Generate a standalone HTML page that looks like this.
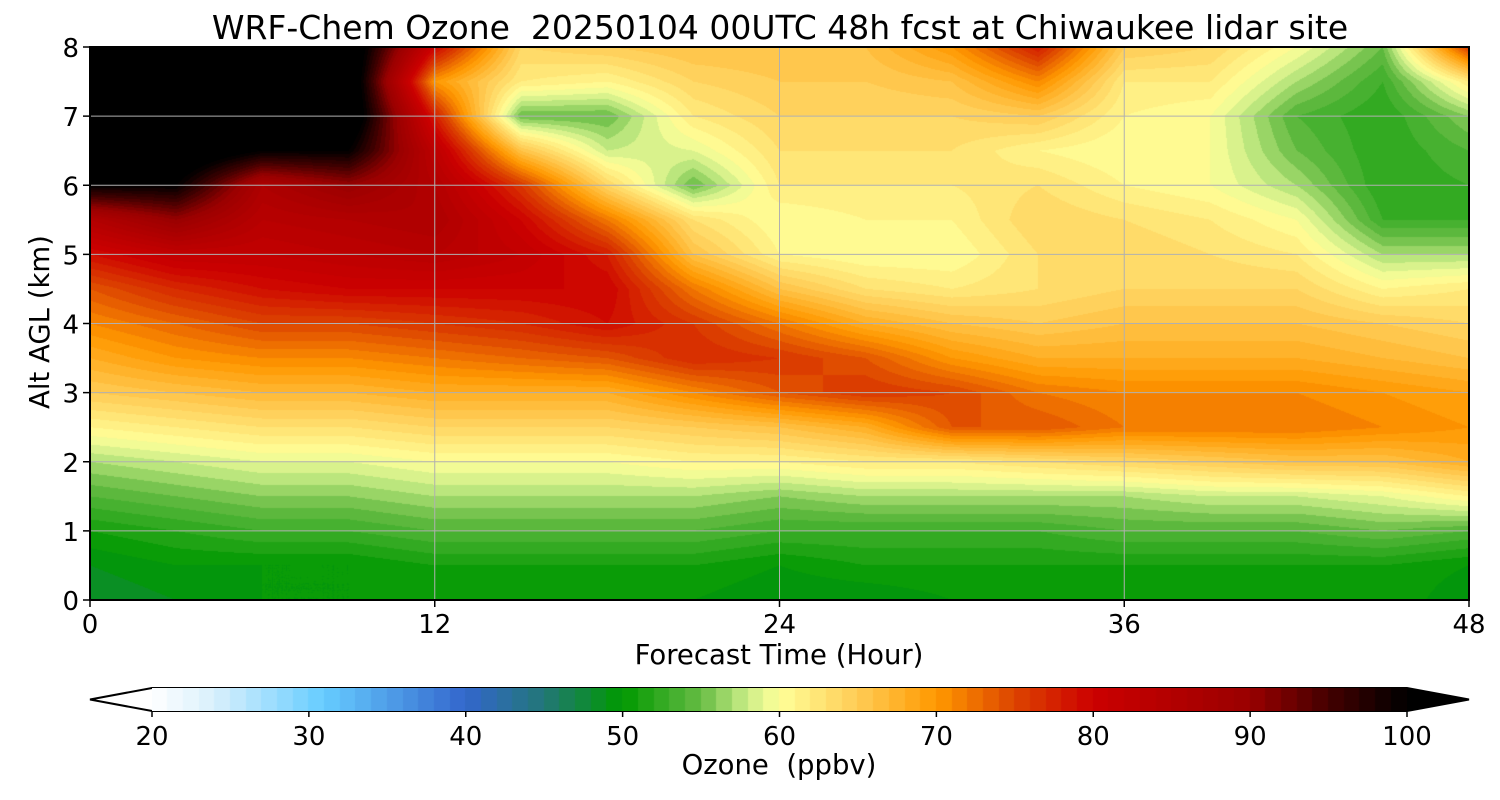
<!DOCTYPE html>
<html><head><meta charset="utf-8"><style>
body{margin:0;background:#fff;font-family:"DejaVu Sans","Liberation Sans",sans-serif;}
#wrap{position:relative;width:1500px;height:800px;}
canvas{position:absolute;}
.t{position:absolute;color:#000;white-space:nowrap;}
</style></head><body>
<div id="wrap">
<div class="t" style="left:0;width:1560px;text-align:center;top:8px;font-size:33px;">WRF-Chem Ozone&nbsp; 20250104 00UTC 48h fcst at Chiwaukee lidar site</div>
<canvas id="plot" width="1379" height="553" style="left:90px;top:47px"></canvas>
<svg id="ov" width="1500" height="800" style="position:absolute;left:0;top:0"></svg>
<canvas id="cb" width="1255" height="23" style="left:152px;top:688px"></canvas>
<div class="t" style="left:479px;width:600px;text-align:center;top:639px;font-size:27.5px;">Forecast Time (Hour)</div>
<div class="t" style="left:-260px;width:600px;text-align:center;top:306px;font-size:27.5px;transform:rotate(-90deg);">Alt AGL (km)</div>
<div class="t" style="left:479px;width:600px;text-align:center;top:749px;font-size:27.5px;">Ozone&nbsp; (ppbv)</div>
</div>
<script>
const hours=[0,3,6,9,12,15,18,21,24,27,30,33,36,39,42,45,48];
const alts=[0,0.5,1,1.5,2,2.5,3,3.5,4,4.5,5,5.5,6,6.5,7,7.5,8];
const xTicks=[0,12,24,36,48];
const yTicks=[0,1,2,3,4,5,6,7,8];
const cbTicks=[20,30,40,50,60,70,80,90,100];
// ozone[hourIndex][altIndex]
const ozone=[
[48,49,51,54,57,61,65,68,71,74,79,85,100,105,105,105,105],
[49,50,52,55,58,62,66,70,73,77,82,90,100,105,105,105,105],
[50,50,53,56,59,63,67,71,75,79,82,84,86,100,105,105,105],
[50,50,53,56,59,63,67,71,75,80,83,85,90,100,105,105,105],
[50,51,54,57,60,64,68,72,76,80,84,86,85,83,78,70,80],
[50,51,54,57,60,64,68,73,77,80,82,80,76,66,55,62,64],
[50,51,54,57,60,64,68,74,79,80,78,72,64,58,55,61,65],
[50,51,54,57,61,65,71,77,76,72,66,63,55,59,62,64,66],
[49,50,53,56,61,66,74,76,72,66,61,60,62,63,64,65,66],
[49,51,53,57,62,68,76,74,68,63,60,61,62,63,64,65,66],
[50,51,53,57,62,74,75,70,66,62,60,61,62,63,64,66,70],
[50,51,53,57,63,74,72,68,65,63,63,64,63,61,65,71,78],
[50,51,54,57,64,72,71,68,66,64,64,63,61,60,61,62,65],
[50,51,54,58,65,72,71,68,66,64,63,62,60,60,60,62,64],
[50,51,54,58,66,72,71,68,66,64,62,60,57,55,54,57,60],
[51,51,55,59,66,71,70,67,65,61,57,53,52,52,52,53,55],
[49,50,54,61,68,70,69,66,64,62,57,53,53,54,56,62,76]];
const anchors=[[20,[255,255,255]],[24,[216,240,252]],[31,[102,204,255]],[40,[51,102,204]],[45,[34,119,119]],[50,[0,153,0]],[55,[102,187,68]],[58,[204,238,136]],[60,[255,255,153]],[65,[255,204,85]],[70,[255,153,0]],[75,[221,68,0]],[80,[204,0,0]],[90,[153,0,0]],[95,[68,0,0]],[100,[0,0,0]]];
function cmap(v){
  if(v>=100)return[0,0,0]; if(v<20)return[255,255,255];
  v=Math.floor(v)+0.5;
  for(let i=0;i<anchors.length-1;i++){const a=anchors[i],b=anchors[i+1];
    if(v>=a[0]&&v<=b[0]){const t=(v-a[0])/(b[0]-a[0]);return a[1].map((c,k)=>Math.round(c+(b[1][k]-c)*t));}}
  return[0,0,0];
}
const X0=90,X1=1469,Y0=47,Y1=600;
const xs=h=>X0+(h-0)/48*(X1-X0);
const ys=a=>Y1-a/8*(Y1-Y0);
function val(h,a){
  let i=0;while(i<hours.length-2&&h>hours[i+1])i++;
  let j=0;while(j<alts.length-2&&a>alts[j+1])j++;
  const tx=(h-hours[i])/(hours[i+1]-hours[i]),ty=(a-alts[j])/(alts[j+1]-alts[j]);
  const v00=ozone[i][j],v10=ozone[i+1][j],v01=ozone[i][j+1],v11=ozone[i+1][j+1];
  return v00*(1-tx)*(1-ty)+v10*tx*(1-ty)+v01*(1-tx)*ty+v11*tx*ty;
}
const pc=document.getElementById('plot'),ctx=pc.getContext('2d');
const W=pc.width,H=pc.height,img=ctx.createImageData(W,H);
for(let y=0;y<H;y++){const a=(Y1-(Y0+y+0.5))/(Y1-Y0)*8;
  for(let x=0;x<W;x++){const h=(x+0.5)/W*48;const c=cmap(val(h,a));const p=(y*W+x)*4;
    img.data[p]=c[0];img.data[p+1]=c[1];img.data[p+2]=c[2];img.data[p+3]=255;}}
ctx.putImageData(img,0,0);
const cb=document.getElementById('cb'),cx=cb.getContext('2d');
for(let v=20;v<100;v++){const c=cmap(v);cx.fillStyle=`rgb(${c})`;
  const x0=(v-20)/80*cb.width,x1=(v+1-20)/80*cb.width;cx.fillRect(Math.floor(x0),0,Math.ceil(x1-x0)+1,cb.height);}
const svg=document.getElementById('ov'),NS='http://www.w3.org/2000/svg';
const FF='DejaVu Sans, Liberation Sans, sans-serif';
function mk(tag,attrs,name,parent){const e=document.createElementNS(NS,tag);for(const k in attrs)e.setAttribute(k,attrs[k]);
  
  
  (parent||svg).appendChild(e);return e;}
xTicks.forEach(h=>{const x=xs(h);
  mk('line',{x1:x,x2:x,y1:Y0,y2:Y1,stroke:'#b0b0b0','stroke-width':1},'x-gridline');
  mk('line',{x1:x,x2:x,y1:Y1,y2:Y1+7,stroke:'#000','stroke-width':1.5},'x-tick');
  const t=mk('text',{x:x,y:Y1+33,'text-anchor':'middle','font-size':26,'font-family':FF},'x-tick-label');t.textContent=h;});
yTicks.forEach(a=>{const y=ys(a);
  mk('line',{x1:X0,x2:X1,y1:y,y2:y,stroke:'#b0b0b0','stroke-width':1},'y-gridline');
  mk('line',{x1:X0-7,x2:X0,y1:y,y2:y,stroke:'#000','stroke-width':1.5},'y-tick');
  const t=mk('text',{x:X0-11,y:y+10,'text-anchor':'end','font-size':26,'font-family':FF},'y-tick-label');t.textContent=a;});
mk('rect',{x:X0,y:Y0,width:X1-X0,height:Y1-Y0,fill:'none',stroke:'#000','stroke-width':2},'plot-frame');
mk('polygon',{points:'90,699.5 152,688 152,711',fill:'#fff',stroke:'none'},'colorbar-min-extend');
mk('polygon',{points:'1407,688 1469,699.5 1407,711',fill:'#000',stroke:'none'},'colorbar-max-extend');
mk('polygon',{points:'90,699.5 152,688 1407,688 1469,699.5 1407,711 152,711',fill:'none',stroke:'#000','stroke-width':2},'colorbar-frame');
cbTicks.forEach(v=>{const x=152+(v-20)/80*1255;
  mk('line',{x1:x,x2:x,y1:711,y2:717,stroke:'#000','stroke-width':1.5},'colorbar-tick');
  const t=mk('text',{x:x,y:745,'text-anchor':'middle','font-size':26,'font-family':FF},'colorbar-tick-label');t.textContent=v;});
</script>
</body></html>
